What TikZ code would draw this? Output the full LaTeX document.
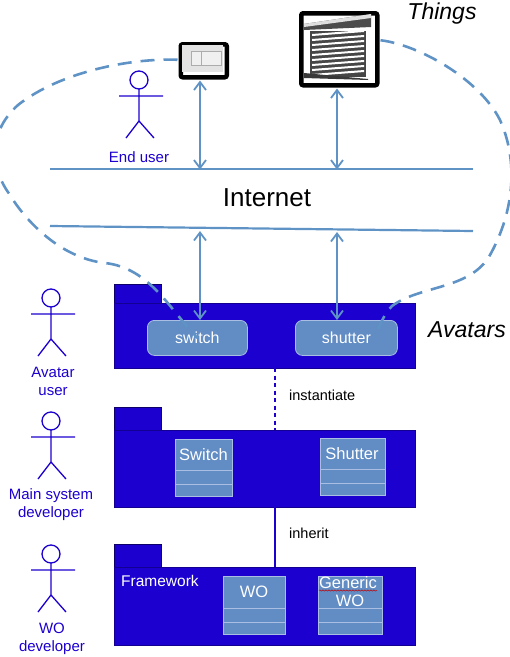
\documentclass[tikz,border=0pt]{standalone}
\usepackage{fontspec}
\setmainfont{Liberation Sans}
\usetikzlibrary{arrows.meta,decorations.pathmorphing,calc}
\definecolor{pk}{HTML}{1B00D0}
\definecolor{ln}{HTML}{5F93C6}
\definecolor{cls}{HTML}{618CC4}
\definecolor{clb}{HTML}{A9BEE2}
\newcommand{\fs}[1]{\fontsize{#1}{18}\selectfont}
\tikzset{
  x=1pt,y=-1pt,
  pkgbox/.style={fill=pk,draw=pk!70!black,line width=.7pt,minimum width=301pt,anchor=north west,inner sep=0},
  pkgtab/.style={fill=pk,draw=pk!50!black,line width=.7pt,minimum width=47pt,anchor=north west,inner sep=0},
  classbox/.style={fill=cls,draw=clb,line width=.9pt,anchor=north west,inner sep=0},
  instbox/.style={fill=cls,draw=clb,line width=.8pt,rounded corners=7pt,anchor=north west,inner sep=0,text=white,font=\fs{16}},
  ctitle/.style={text=white,font=\fs{16.5},align=center,inner sep=0},
  actorline/.style={draw=pk,line width=1.3pt},
  actorlabel/.style={text=pk,font=\fs{15},align=center,inner sep=0},
  blab/.style={text=black,font=\fs{14.5},inner sep=0,anchor=west},
  things/.style={text=black,font=\itshape\fs{23},inner sep=0},
  wire/.style={draw=ln,line width=2.2pt},
  twoway/.style={wire,{Straight Barb[length=8pt,width=12pt,line width=1.8pt]}-{Straight Barb[length=8pt,width=12pt,line width=1.8pt]}},
  oneway/.style={wire,-{Straight Barb[length=8pt,width=12pt,line width=1.8pt]}},
  cloud/.style={draw=ln,line width=2.6pt,dash pattern=on 14pt off 9pt},
  frame/.style={fill=white,draw=black,line width=4.5pt,rounded corners=2pt,anchor=north west,inner sep=0},
}
\newcommand{\actor}[3]{% x, y of head centre, name prefix
  \draw[actorline] (#1,#2) circle[radius=9];
  \draw[actorline] (#1,#2+9) -- (#1,#2+41) (#1-20,#2+16) -- (#1+24,#2+16)
    (#1-13,#2+58) -- (#1,#2+41) -- (#1+15,#2+58);
}
\newcommand{\classrows}[4]{% left,right,y1,y2
  \draw[draw=clb,line width=.9pt] (#1,#3) -- (#2,#3) (#1,#4) -- (#2,#4);
}
\begin{document}
\begin{tikzpicture}
\useasboundingbox (0,0) rectangle (510,657);
% packages
\node[pkgtab,minimum height=19pt] (tabA) at (114,284) {};
\node[pkgbox,minimum height=65pt] (pkgA) at (114,303) {};
\node[pkgtab,minimum height=23pt] (tabB) at (114,407) {};
\node[pkgbox,minimum height=77pt] (pkgB) at (114,430) {};
\node[pkgtab,minimum height=23pt] (tabC) at (114,544) {};
\node[pkgbox,minimum height=78pt] (pkgC) at (114,567) {};
% package connectors
\coordinate (instT) at (275,368); \coordinate (instB) at (275,430);
\coordinate (inhT) at (275,507); \coordinate (inhB) at (275,567);
\draw[pk,line width=2pt,dash pattern=on 4pt off 3.5pt] (instT) -- (instB);
\draw[pk,line width=2pt] (inhT) -- (inhB);
\node[blab] (linst) at (289,395) {instantiate};
\node[blab] (linh) at (289,533) {inherit};
% instances
\node[instbox,minimum width=100pt,minimum height=35pt] (sw) at (147,320) {switch};
\node[instbox,minimum width=102pt,minimum height=35pt] (sh) at (295,320) {shutter};
% classes
\node[classbox,minimum width=57pt,minimum height=57pt] (cSwitch) at (175,439) {};
\classrows{175}{232}{470}{484}
\node[ctitle] (tSwitch) at (203.5,454.5) {Switch};
\node[classbox,minimum width=65pt,minimum height=57pt] (cShutter) at (320,438) {};
\classrows{320}{385}{469}{483}
\node[ctitle] (tShutter) at (352,454) {Shutter};
\node[classbox,minimum width=62pt,minimum height=58pt] (cWO) at (223,576) {};
\classrows{223}{285}{608}{622}
\node[ctitle] (tWO) at (254,592) {WO};
\node[classbox,minimum width=64pt,minimum height=58pt] (cGen) at (318,576) {};
\classrows{318}{382}{608}{622}
\node[ctitle] (tGen) at (348,583) {Generic};
\node[ctitle] (tGen2) at (350,601) {WO};
\draw[red!75!black,line width=.5pt,decorate,decoration={snake,amplitude=.6pt,segment length=3pt}] (319,590.5) -- (377,590.5);
\node[text=white,font=\fs{15.5},inner sep=0,anchor=west] (fw) at (121,581) {Framework};
% things
\node[frame,minimum width=46pt,minimum height=33pt] (swImg) at (178.5,42) {};
\fill[gray!22] (181.5,45) rectangle (222.5,72);
\draw[gray!65,line width=.4pt,fill=gray!12] (191,51) rectangle (221,65) (201,51) -- (201,65);
\node[frame,minimum width=76pt,minimum height=72pt] (shImg) at (299,11) {};
\fill[gray!60!black] (304,24) -- (371,14) -- (371,27) -- (304,30) -- cycle;
\fill[gray!25] (304,24) -- (371,14) -- (371,18) -- (304,27) -- cycle;
\fill[gray!55!black] (310,31) rectangle (366,77);
\foreach \i in {0,...,8}{
  \fill[white] (312,{34+\i*5}) -- (364,{30+\i*5}) -- (364,{32+\i*5}) -- (312,{36+\i*5}) -- cycle;
}
\fill[gray!45!black] (304,73) -- (368,79) -- (368,80) -- (304,78) -- cycle;
% internet
\coordinate (i1a) at (50,169); \coordinate (i1b) at (473,169);
\coordinate (i2a) at (50,226); \coordinate (i2b) at (473,231);
\coordinate (up1) at (200,169.5); \coordinate (up2) at (337,169.5);
\coordinate (dn1) at (200,229); \coordinate (dn2) at (337,230);
\draw[wire] (i1a) -- (i1b);
\draw[wire] (i2a) -- (i2b);
\node[text=black,font=\fs{26},inner sep=0] (inet) at (267,198) {Internet};
\draw[twoway] (swImg.south -| up1) ++(0,1) -- (up1);
\draw[twoway] (shImg.south -| up2) ++(0,1) -- (up2);
\draw[twoway] (dn1) ++(0,2) -- (sw.north -| dn1);
\draw[twoway] (dn2) ++(0,2) -- (sh.north -| dn2);
% cloud
\draw[cloud] (swImg.west) ++(-1,-1) .. controls (130,58) and (60,72) .. (18,105)
  .. controls (-10,130) and (-12,165) .. (10,195)
  .. controls (25,220) and (60,258) .. (105,263)
  .. controls (150,268) and (170,310) .. (sw.center);
\draw[cloud] (shImg.east) ++(1,-9) .. controls (420,45) and (480,80) .. (500,120)
  .. controls (518,160) and (515,210) .. (490,255)
  .. controls (470,290) and (420,285) .. (392,306)
  .. controls (384,314) and (380,325) .. (376,334);
% actors
\actor{139}{80}{eu}
\node[actorlabel] (leu) at (139,157) {End user};
\actor{51}{298}{au}
\node[actorlabel] (lau) at (53,381) {Avatar\\ user};
\actor{51}{421}{ms}
\node[actorlabel] (lms) at (51,505) {Main system\\ developer};
\actor{51}{554}{wo}
\node[actorlabel] (lwo) at (52,639) {WO\\ developer};
\node[things] (lth) at (442,14) {Things};
\node[things] (lav) at (467,330) {Avatars};
\end{tikzpicture}
\end{document}
